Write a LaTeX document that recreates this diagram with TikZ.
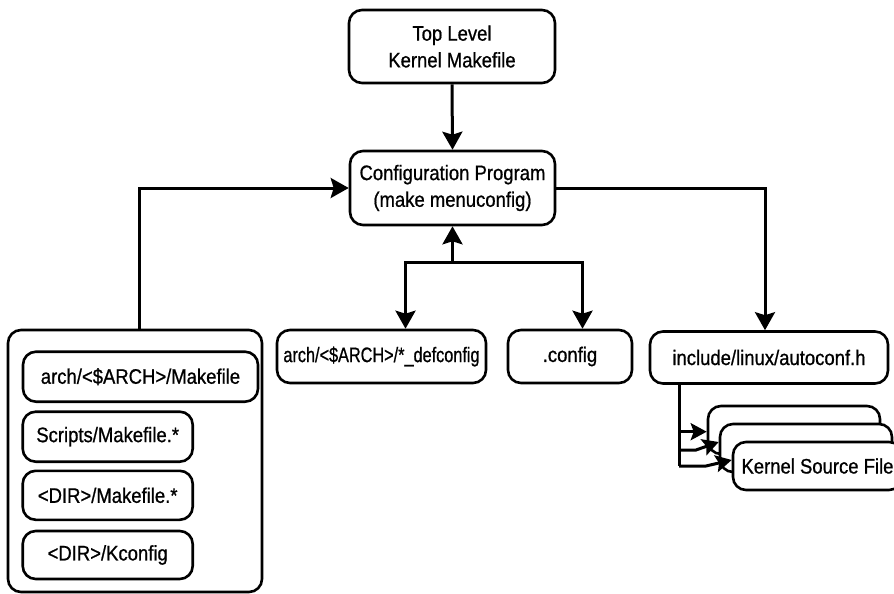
\documentclass[tikz,border=0pt]{standalone}
\usepackage{fontspec}
\usepackage{graphicx}
\setmainfont[FakeStretch=0.88,FakeBold=0.8]{Liberation Sans}
\usetikzlibrary{arrows.meta}
\begin{document}
\begin{tikzpicture}[x=1pt,y=-1pt,
  box/.style={draw, line width=2.6pt, rounded corners=13pt, fill=white, inner sep=0pt, align=center,
    font=\fontsize{21}{26.7}\selectfont},
  conn/.style={line width=3pt, -{Stealth[length=18pt,width=20pt,inset=3pt]}},
  small/.style={line width=3pt, -{Stealth[length=16pt,width=17pt,inset=3pt]}}]
\useasboundingbox (0,0) rectangle (894,594);
\clip (0,0) rectangle (894,594);
% main boxes
\node[box, minimum width=206pt, minimum height=73pt] (top) at (452,46.5) {Top Level\\Kernel Makefile};
\node[box, minimum width=205pt, minimum height=74pt] (cfg) at (452.5,188) {Configuration Program\\(make menuconfig)};
\node[box, minimum width=209pt, minimum height=53pt] (def) at (381.5,356.5) {\scalebox{0.88}[1]{arch/<\$ARCH>/*\_defconfig}};
\node[box, minimum width=124pt, minimum height=53pt] (dot) at (570,356.5) {.config};
\node[box, minimum width=238pt, minimum height=52pt] (inc) at (769,357.5) {include/linux/autoconf.h};
% left group
\node[box, minimum width=254pt, minimum height=262pt] (grp) at (135,461) {};
\node[box, minimum width=235pt, minimum height=50pt] (am) at (140.5,376.7) {arch/<\$ARCH>/Makefile};
\node[box, minimum width=170pt, minimum height=50pt] (sm) at (107.7,436.7) {Scripts/Makefile.*};
\node[box, minimum width=170pt, minimum height=49pt] (dm) at (107.7,495.3) {<DIR>/Makefile.*};
\node[box, minimum width=170pt, minimum height=48pt] (dk) at (107.7,555) {<DIR>/Kconfig};
% kernel source files stack
\node[box, minimum width=172pt, minimum height=48pt] (k1) at (794,430) {};
\node[box, minimum width=172pt, minimum height=48pt] (k2) at (806,448) {};
\node[box, minimum width=169pt, minimum height=48pt] (k3) at (817.5,466) {Kernel Source File};
% connectors
\draw[conn] (top.south) -- (cfg.north);
\draw[conn] (grp.north -| 139,0) |- (cfg.west);
\draw[conn] (cfg.east) -| ([xshift=-4pt]inc.north);
\coordinate (j) at (452.5,262);
\draw[conn] (j) -- (cfg.south);
\draw[line width=3pt] ([xshift=24pt]def.north |- j) -- ([xshift=12.5pt]dot.north |- j);
\draw[conn] (j) -| ([xshift=24pt]def.north);
\draw[conn] (j) -| ([xshift=12.5pt]dot.north);
\coordinate (v) at (679,466);
\draw[line width=3pt] (inc.south -| v) -- (v);
\draw[small] (679,431.7) -- (k1.west |- 0,431.7);
\draw[small] (679,450) -- (696,450) -- ([yshift=8pt]k2.west |- 0,450);
\draw[small] (v) -- (706,466) -- ([yshift=6pt]k3.west);
\end{tikzpicture}
\end{document}
